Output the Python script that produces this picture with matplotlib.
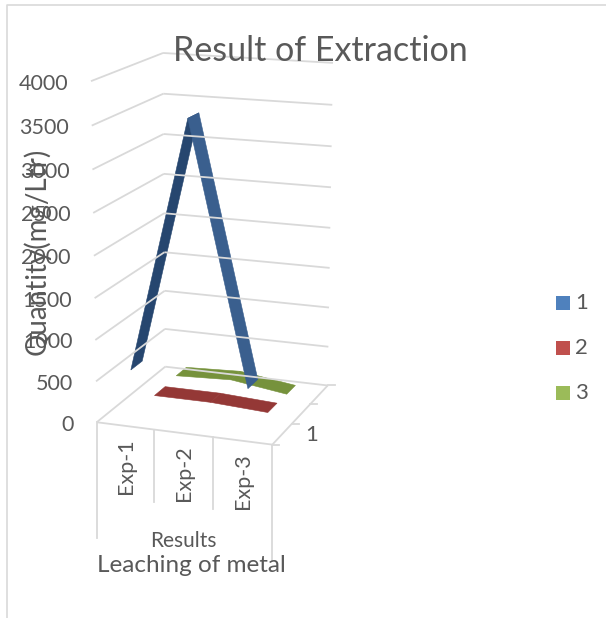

import numpy as np
import matplotlib
matplotlib.use("Agg")
import matplotlib.pyplot as plt
from matplotlib.patches import Polygon, Rectangle

plt.rcParams['font.family'] = ['Lato', 'DejaVu Sans']

# data
categories = ["Exp-1", "Exp-2", "Exp-3"]
series_names = ["1", "2", "3"]
series1 = [620, 3620, 560]
series2 = [70, 70, 30]
series3 = [90, 120, 20]
y_ticks = [0, 500, 1000, 1500, 2000, 2500, 3000, 3500, 4000]
y_max = 4000

TXT = "#595959"
GRID = "#d9d9d9"
top_colors = ["#3a5f8e", "#943836", "#76923c"]
dark_colors = ["#26466f", "#943836", "#76923c"]
legend_colors = ["#4f81bd", "#c0504d", "#9bbb59"]

# camera of the 3D box: (category, depth, value) in 0..1 -> picture pixels
box = np.array([[0, 0, 0], [1, 0, 0], [0, 1, 0], [1, 1, 0], [0, 0, 1], [0, 1, 1], [1, 1, 1]], float)
pix = np.array([[97, 422], [272, 445], [165, 367], [328, 385], [91, 81], [163, 53], [333, 63]], float)
rows = []
for (a, b, c), (px, py) in zip(box, pix):
    rows.append([a, b, c, 1, 0, 0, 0, 0, -px*a, -px*b, -px*c, -px])
    rows.append([0, 0, 0, 0, a, b, c, 1, -py*a, -py*b, -py*c, -py])
P = np.linalg.svd(np.array(rows))[2][-1].reshape(3, 4)


def proj(u, d, v):
    h = P @ np.array([u, d, v/y_max, 1.0])
    return h[0]/h[2], h[1]/h[2]


fig = plt.figure(figsize=(6.06, 6.18), dpi=100)
ax = fig.add_axes([0, 0, 1, 1])
ax.set_xlim(0, 606)
ax.set_ylim(618, 0)
ax.axis("off")

# outer frame of the chart
ax.plot([7, 7, 606], [618, 5, 5], color=GRID, lw=1.2)


def line3d(a, b, **kw):
    p, q = proj(*a), proj(*b)
    ax.plot([p[0], q[0]], [p[1], q[1]], color=GRID, solid_capstyle="butt", **kw)


# walls
for t in y_ticks:
    line3d((0, 0, t), (0, 1, t), lw=1.3)
    line3d((0, 1, t), (1, 1, t), lw=1.3)
    x, y = proj(0, 0, t)
    ax.text(x-23, y+2.5, str(t), ha="right", va="center", fontsize=15.5, color=TXT)

# floor
line3d((0, 0, 0), (1, 0, 0), lw=1.3)
line3d((1, 0, 0), (1, 1, 0), lw=1.3)
for d in [0, 1/3, 2/3, 1]:
    p = proj(1, d, 0)
    ax.plot([p[0], p[0]+7], [p[1], p[1]], color=GRID, lw=1.3)

# category dividers and labels
n = len(categories)
for i in range(n+1):
    p = proj(i/n, 0, 0)
    depth = 116 if i in (0, n) else 72
    ax.plot([p[0], p[0]], [p[1], p[1]+depth], color=GRID, lw=1.3)
for i, name in enumerate(categories):
    p = proj((i+.5)/n, 0, 0)
    ax.text(p[0]+1, p[1]+40, name, rotation=90, ha="center", va="center", fontsize=15.5, color=TXT)

# ribbons, back series first
half = 0.08
for k in [2, 1, 0]:
    vals = [series1, series2, series3][k]
    d = (k+.5)/3
    for i in range(n-1):
        u0, u1 = (i+.5)/n, (i+1.5)/n
        pts = [proj(u0, d-half, vals[i]), proj(u0, d+half, vals[i]),
               proj(u1, d+half, vals[i+1]), proj(u1, d-half, vals[i+1])]
        col = dark_colors[k] if vals[i+1] > vals[i] else top_colors[k]
        ax.add_patch(Polygon(pts, closed=True, fc=col, ec=col, lw=0.4))

ax.text(320, 51, "Result of Extraction", ha="center", va="center", fontsize=24.5, color=TXT)
ax.text(37, 251, "Quantity(mg/Ltr)", rotation=90, ha="center", va="center", fontsize=20, color=TXT)
ax.text(183, 541, "Results", ha="center", va="center", fontsize=15, color=TXT)
ax.text(191, 565, "Leaching of metal", ha="center", va="center", fontsize=17.5, color=TXT)
ax.text(312, 435, "1", ha="center", va="center", fontsize=16, color=TXT)

# legend
for name, col, y in zip(series_names, legend_colors, [303, 348, 393]):
    ax.add_patch(Rectangle((556, y-7), 14, 14, fc=col, ec="none"))
    ax.text(575, y, name, ha="left", va="center", fontsize=16, color=TXT)

fig.savefig("out.png", dpi=100)
